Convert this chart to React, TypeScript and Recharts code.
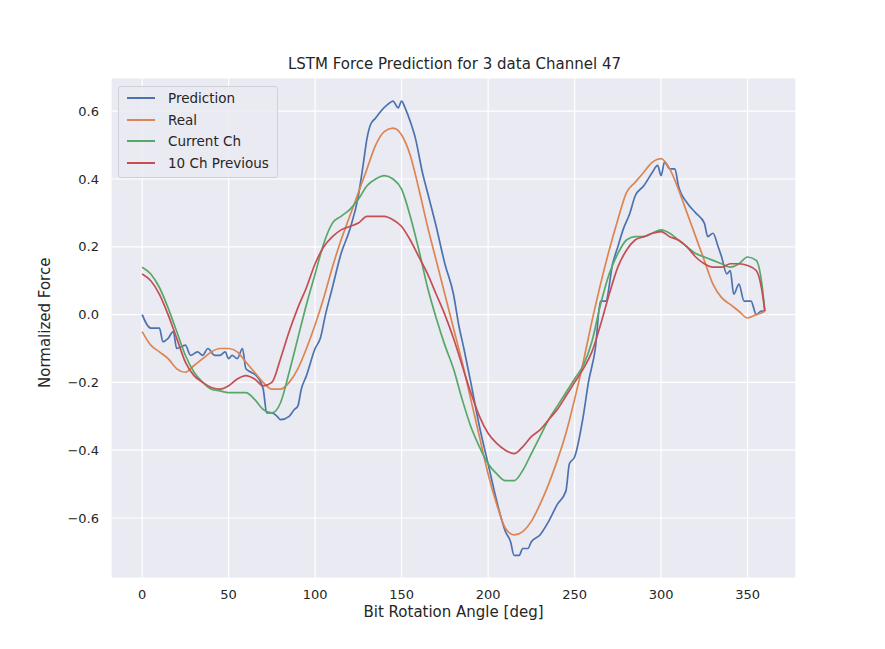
import React from "react";
import { LineChart, Line, XAxis, YAxis, CartesianGrid } from "recharts";

const predX = [0,5,10,12,15,18,20,25,28,32,35,38,42,45,48,50,52,55,58,60,63,66,70,72,75,78,80,85,88,90,92,95,100,103,106,110,115,120,125,128,130,132,135,138,142,145,148,150,152,155,158,162,165,170,175,180,183,186,190,195,200,205,210,213,215,218,220,223,225,230,235,240,245,247,250,255,258,262,265,268,272,275,278,282,285,290,295,298,300,302,305,308,310,315,320,325,327,330,333,335,338,340,342,345,348,352,355,358,360];
const predY = [0,-0.04,-0.04,-0.08,-0.07,-0.05,-0.1,-0.09,-0.12,-0.11,-0.12,-0.1,-0.12,-0.12,-0.11,-0.13,-0.12,-0.13,-0.1,-0.16,-0.17,-0.18,-0.22,-0.29,-0.29,-0.3,-0.31,-0.3,-0.28,-0.27,-0.22,-0.18,-0.1,-0.07,0,0.08,0.18,0.25,0.35,0.45,0.52,0.56,0.58,0.6,0.62,0.63,0.61,0.63,0.61,0.57,0.52,0.42,0.36,0.26,0.15,0.06,-0.03,-0.1,-0.2,-0.33,-0.44,-0.55,-0.64,-0.67,-0.71,-0.71,-0.69,-0.69,-0.67,-0.65,-0.61,-0.56,-0.52,-0.44,-0.42,-0.3,-0.2,-0.1,0.04,0.04,0.15,0.2,0.25,0.3,0.35,0.38,0.42,0.44,0.41,0.45,0.43,0.43,0.38,0.33,0.3,0.27,0.23,0.24,0.2,0.17,0.12,0.13,0.06,0.09,0.04,0.04,0,0.01,0.01];

const smoothX = [0,5,10,15,20,25,30,35,40,45,50,55,60,65,70,75,80,85,90,95,100,105,110,115,120,125,130,135,140,145,150,155,160,165,170,175,180,185,190,195,200,205,210,215,220,225,230,235,240,245,250,255,260,265,270,275,280,285,290,295,300,305,310,315,320,325,330,335,340,345,350,355,358,360];
const realY = [-0.05,-0.09,-0.11,-0.13,-0.16,-0.17,-0.15,-0.13,-0.11,-0.1,-0.1,-0.11,-0.14,-0.17,-0.2,-0.22,-0.22,-0.2,-0.16,-0.1,-0.03,0.05,0.14,0.22,0.29,0.36,0.43,0.5,0.54,0.55,0.53,0.47,0.37,0.26,0.16,0.06,-0.04,-0.14,-0.25,-0.36,-0.47,-0.56,-0.63,-0.65,-0.64,-0.61,-0.56,-0.5,-0.43,-0.35,-0.25,-0.14,-0.02,0.09,0.19,0.28,0.36,0.39,0.42,0.45,0.46,0.43,0.37,0.3,0.23,0.16,0.09,0.05,0.03,0.01,-0.01,0,0.005,0.01];
const currentY = [0.14,0.12,0.08,0.02,-0.05,-0.12,-0.17,-0.2,-0.22,-0.225,-0.23,-0.23,-0.23,-0.25,-0.28,-0.29,-0.26,-0.17,-0.07,0.03,0.12,0.21,0.27,0.29,0.31,0.34,0.38,0.4,0.41,0.4,0.37,0.29,0.19,0.08,-0.01,-0.09,-0.16,-0.25,-0.33,-0.39,-0.44,-0.47,-0.49,-0.49,-0.46,-0.41,-0.36,-0.31,-0.27,-0.23,-0.19,-0.15,-0.08,0.03,0.12,0.18,0.22,0.23,0.23,0.24,0.25,0.24,0.22,0.2,0.18,0.17,0.16,0.15,0.14,0.15,0.17,0.16,0.1,0.01];
const prevY = [0.12,0.1,0.06,0,-0.07,-0.14,-0.18,-0.2,-0.215,-0.22,-0.21,-0.19,-0.18,-0.19,-0.21,-0.2,-0.13,-0.05,0.02,0.08,0.15,0.2,0.23,0.25,0.26,0.27,0.29,0.29,0.29,0.28,0.26,0.22,0.17,0.12,0.06,0,-0.07,-0.15,-0.23,-0.3,-0.35,-0.38,-0.4,-0.41,-0.39,-0.36,-0.34,-0.31,-0.28,-0.24,-0.2,-0.16,-0.11,-0.03,0.06,0.14,0.19,0.22,0.23,0.24,0.245,0.23,0.22,0.2,0.17,0.15,0.14,0.14,0.15,0.15,0.145,0.13,0.08,0.01];

const xTicks = [0,50,100,150,200,250,300,350];
const yTicks = [-0.6,-0.4,-0.2,0,0.2,0.4,0.6];

const zip = (xs: number[], ys: number[]) => xs.map((x, i) => ({ x, y: ys[i] }));
const series = [
  { name: "Prediction", color: "#4c72b0", data: zip(predX, predY) },
  { name: "Real", color: "#dd8452", data: zip(smoothX, realY) },
  { name: "Current Ch", color: "#55a868", data: zip(smoothX, currentY) },
  { name: "10 Ch Previous", color: "#c44e52", data: zip(smoothX, prevY) },
];

const font = "DejaVu Sans, sans-serif";
const tick = { fill: "#262626", fontSize: 13, fontFamily: font };

export default function App() {
  return (
    <div style={{ position: "absolute", left: 0, top: 0, width: 885, height: 649, background: "#fff", fontFamily: font }}>
      <div style={{ position: "absolute", top: 55, width: 885, left: 12, textAlign: "center", fontSize: 15, color: "#262626" }}>
        LSTM Force Prediction for 3 data Channel 47
      </div>
      <LineChart width={885} height={649} margin={{ top: 78, right: 89, left: 0, bottom: 0 }}>
        <CartesianGrid fill="#eaeaf2" stroke="#fff" strokeWidth={1.2} />
        <XAxis type="number" dataKey="x" domain={[-18, 378]} ticks={xTicks} allowDataOverflow
          axisLine={false} tickLine={false} tick={tick} height={71} tickMargin={6}
          label={{ value: "Bit Rotation Angle [deg]", position: "insideTop", offset: 28, fill: "#262626", fontSize: 15, fontFamily: font }} />
        <YAxis type="number" domain={[-0.777, 0.698]} ticks={yTicks} allowDataOverflow
          axisLine={false} tickLine={false} tick={tick} width={111} tickMargin={6}
          tickFormatter={(v: number) => (v < 0 ? "\u2212" + Math.abs(v).toFixed(1) : v.toFixed(1))}
          label={{ value: "Normalized Force", angle: -90, position: "insideLeft", offset: 45, dy: 60, fill: "#262626", fontSize: 15, fontFamily: font }} />
        {series.map((s) => (
          <Line key={s.name} data={s.data} dataKey="y" type="monotone" stroke={s.color} strokeWidth={1.7} dot={false} isAnimationActive={false} />
        ))}
      </LineChart>
      <div style={{ position: "absolute", left: 118, top: 86, width: 158, height: 90, border: "1px solid #d0d0d8", borderRadius: 3, background: "rgba(234,234,242,0.85)", fontSize: 13.5, color: "#262626" }}>
        {series.map((s, i) => (
          <div key={s.name} style={{ position: "absolute", top: 3 + i * 21.5, left: 8, display: "flex", alignItems: "center" }}>
            <span style={{ display: "inline-block", width: 28, height: 2, background: s.color, marginRight: 13 }} />
            {s.name}
          </div>
        ))}
      </div>
    </div>
  );
}
